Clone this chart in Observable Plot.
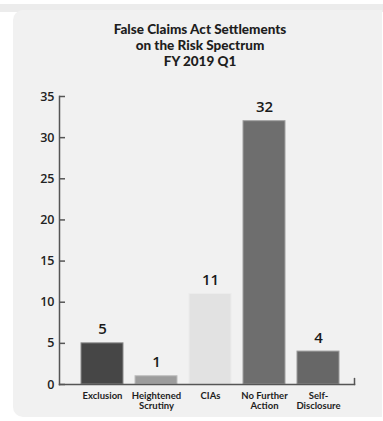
<!DOCTYPE html>
<html>
<head>
<meta charset="utf-8">
<script src="https://cdn.jsdelivr.net/npm/d3@7"></script>
<script src="https://cdn.jsdelivr.net/npm/@observablehq/plot@0.6"></script>
<style>
  html, body { margin: 0; padding: 0; background: #ffffff; }
  #wrap { position: relative; width: 383px; height: 421px; overflow: hidden; }
  #topband { position: absolute; left: 0; top: 4px; width: 383px; height: 8px; background: #ececec; }
  #panel { position: absolute; left: 13px; top: 10px; width: 369px; height: 407px; background: #f1f1f1; border-radius: 10px 0 0 10px; }
  #title { position: absolute; left: 13px; width: 374px; top: 21px; text-align: center;
           font-family: Lato, "Open Sans", sans-serif; font-weight: 900; font-size: 13.5px; line-height: 16px; color: #1e1e1e; }
  #chart { position: absolute; left: 0; top: 0; }
</style>
</head>
<body>
<div id="wrap">
  <div id="topband"></div>
  <div id="panel"></div>
  <div id="title">False Claims Act Settlements<br>on the Risk Spectrum<br>FY 2019 Q1</div>
  <div id="chart"></div>
</div>
<script>
const categories = ["Exclusion", "Heightened\nScrutiny", "CIAs", "No Further\nAction", "Self-\nDisclosure"];
const values = [5, 1, 11, 32, 4];
const yTicks = [0, 5, 10, 15, 20, 25, 30, 35];
const barColors = ["#464646", "#9c9c9c", "#e2e2e2", "#6e6e6e", "#676767"];
const barStrokes = ["#8a8a8a", "#bdbdbd", "#ececec", "#a0a0a0", "#9a9a9a"];

const data = categories.map((c, i) => ({category: c, value: values[i]}));

const chart = Plot.plot({
  width: 383,
  height: 421,
  marginLeft: 59,
  marginRight: 29,
  marginTop: 96,
  marginBottom: 37,
  style: {background: "transparent", fontFamily: "Lato, 'Open Sans', sans-serif", color: "#222"},
  x: {type: "band", domain: categories, paddingInner: 0.226, paddingOuter: 0.332, align: 0.583, label: null},
  y: {domain: [0, 35], label: null},
  color: {type: "ordinal", domain: categories, range: barColors},
  marks: [
    Plot.barY(data, {x: "category", y: "value", fill: "category", stroke: (d) => barStrokes[categories.indexOf(d.category)], strokeWidth: 1}),
    Plot.text(data, {x: "category", y: "value", text: (d) => String(d.value), lineAnchor: "bottom", dy: -9, fontSize: 15, fontWeight: 600, fontFamily: "'Open Sans', sans-serif", fill: "#1a1a1a"}),
    Plot.frame({anchor: "left", stroke: "#555", strokeWidth: 1.5}),
    Plot.frame({anchor: "bottom", stroke: "#555", strokeWidth: 1.5}),
    Plot.vector([0], {frameAnchor: "bottom-right", length: 6, rotate: 0, anchor: "start", stroke: "#555", strokeWidth: 1.5,
      shape: {draw(context, l) { context.moveTo(0, 0); context.lineTo(0, -l); }}}),
    Plot.axisY({ticks: yTicks, tickSize: 6, dx: 6, text: null, stroke: "#555", strokeWidth: 1.5}),
    Plot.axisY({ticks: yTicks, tickSize: 0, tickPadding: 5, fontSize: 12.5, fontWeight: 600, fontFamily: "'Open Sans', sans-serif", fill: "#222", label: null}),
    Plot.axisX({tickSize: 0, tickPadding: 7, fontSize: 9.5, fontWeight: 700, fill: "#1e1e1e", label: null, lineHeight: 1.1})
  ]
});
document.getElementById("chart").appendChild(chart);
</script>
</body>
</html>
